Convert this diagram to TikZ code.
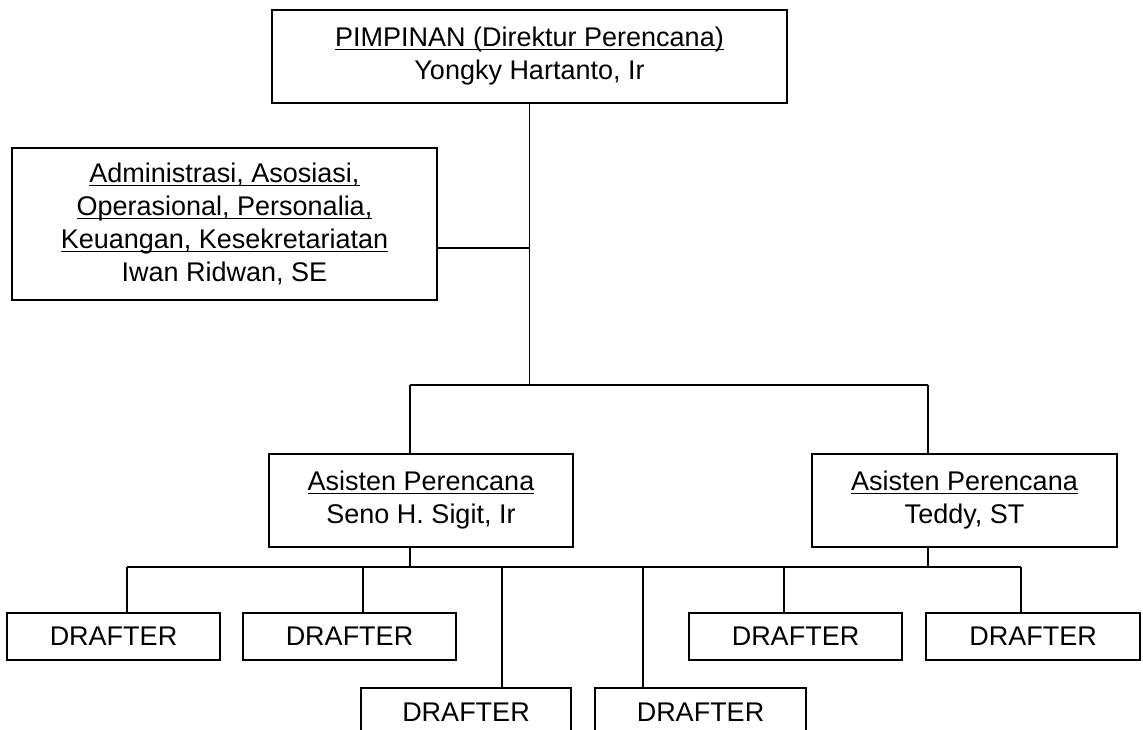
\documentclass[tikz,border=0pt]{standalone}
\usepackage{fontspec}
\setmainfont{Liberation Sans}
\newcommand\myul[1]{\leavevmode\setbox0\hbox{#1}\rlap{\rule[-3.5pt]{\wd0}{1.3pt}}\box0}
\tikzset{
  box/.style={draw, line width=1.5pt, rectangle, inner sep=0pt, align=center,
    font=\fontsize{27}{33}\selectfont},
  conn/.style={line width=1.4pt}
}
\begin{document}
\begin{tikzpicture}[x=1pt,y=-1pt]
\useasboundingbox (0,0) rectangle (1143,729);
\clip (0,0) rectangle (1143,729);
\fill[white] (0,0) rectangle (1143,729);
% boxes
\node[box, minimum width=515pt, minimum height=93pt] (top) at (529.5,56.5)
  {\myul{PIMPINAN (Direktur Perencana)}\\Yongky Hartanto, Ir};
\node[box, minimum width=425pt, minimum height=152pt] (admin) at (224.5,224)
  {\myul{Administrasi, Asosiasi,}\\\myul{Operasional, Personalia,}\\\myul{Keuangan, Kesekretariatan}\\Iwan Ridwan, SE};
\node[box, minimum width=304pt, minimum height=93pt] (aL) at (421,500.5)
  {\myul{Asisten Perencana}\\Seno H. Sigit, Ir};
\node[box, minimum width=305pt, minimum height=93pt] (aR) at (964.5,500.5)
  {\myul{Asisten Perencana}\\Teddy, ST};
\node[box, minimum width=213pt, minimum height=47pt] (d1) at (113.5,636.5) {DRAFTER};
\node[box, minimum width=213pt, minimum height=47pt] (d2) at (349.5,636.5) {DRAFTER};
\node[box, minimum width=210pt, minimum height=48pt] (d3) at (466,712) {DRAFTER};
\node[box, minimum width=211pt, minimum height=48pt] (d4) at (700.5,712) {DRAFTER};
\node[box, minimum width=213pt, minimum height=47pt] (d5) at (795.5,636.5) {DRAFTER};
\node[box, minimum width=214pt, minimum height=47pt] (d6) at (1033,636.5) {DRAFTER};
% junctions
\coordinate (ja) at (529.5,248);
\coordinate (j1) at (529.5,385);
\coordinate (jL) at (410,385);
\coordinate (jR) at (928,385);
\coordinate (v1) at (127,567);
\coordinate (v2) at (363,567);
\coordinate (v3) at (502,567);
\coordinate (v4) at (643,567);
\coordinate (v5) at (784,567);
\coordinate (v6) at (1021,567);
% connectors
\draw[conn] (top.south) -- (j1);
\draw[conn] (ja) -- (ja -| admin.east);
\draw[conn] (jL) -- (jR);
\draw[conn] (jL) -- (jL |- aL.north);
\draw[conn] (jR) -- (jR |- aR.north);
\draw[conn] (jL |- aL.south) -- (jL |- v1);
\draw[conn] (jR |- aR.south) -- (jR |- v1);
\draw[conn] (v1) -- (v6);
\draw[conn] (v1) -- (v1 |- d1.north);
\draw[conn] (v2) -- (v2 |- d2.north);
\draw[conn] (v3) -- (v3 |- d3.north);
\draw[conn] (v4) -- (v4 |- d4.north);
\draw[conn] (v5) -- (v5 |- d5.north);
\draw[conn] (v6) -- (v6 |- d6.north);
\end{tikzpicture}
\end{document}
